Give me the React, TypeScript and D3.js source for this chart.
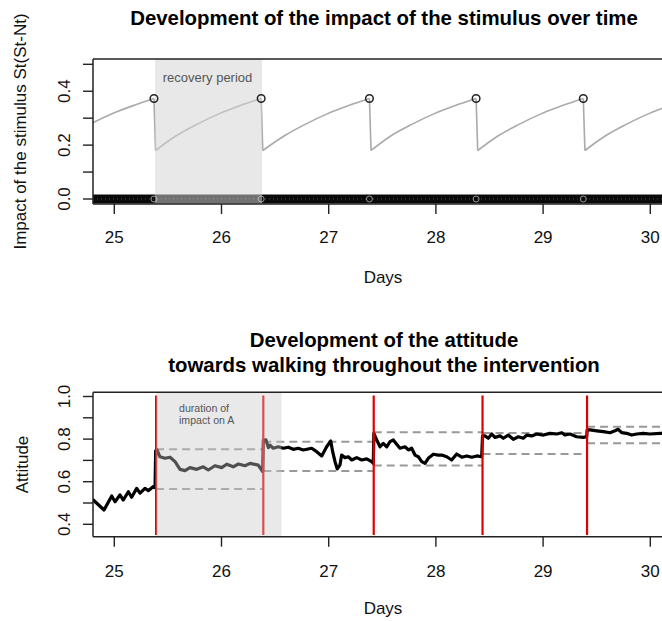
import React from "react";
import * as d3 from "d3";

// ---------- data: top panel (impact of the stimulus) ----------
const stimDays = [
  24.8, 25.0, 25.2, 25.37,
  25.385, 25.57, 25.77, 25.97, 26.17, 26.37,
  26.385, 26.58, 26.78, 26.98, 27.18, 27.38,
  27.395, 27.575, 27.775, 27.975, 28.175, 28.375,
  28.39, 28.575, 28.775, 28.975, 29.175, 29.375,
  29.39, 29.575, 29.775, 29.975, 30.175, 30.375,
];
const stimValues = [
  0.283, 0.32, 0.35, 0.373,
  0.18, 0.233, 0.277, 0.315, 0.346, 0.373,
  0.18, 0.233, 0.277, 0.315, 0.346, 0.373,
  0.18, 0.233, 0.277, 0.315, 0.346, 0.373,
  0.18, 0.233, 0.277, 0.315, 0.346, 0.373,
  0.18, 0.233, 0.277, 0.315, 0.346, 0.373,
];
const peakDays = [25.37, 26.37, 27.38, 28.375, 29.375];
const peakValues = [0.373, 0.373, 0.373, 0.373, 0.373];
const recoveryPeriod = [25.38, 26.378];
const topYTicks = [0, 0.1, 0.2, 0.3, 0.4, 0.5];
const topYLabels = ["0.0", "", "0.2", "", "0.4", ""];

// ---------- data: bottom panel (attitude) ----------
const attDays = [
  24.804, 24.904, 24.976, 25.007, 25.053, 25.084, 25.131, 25.162, 25.209, 25.24,
  25.286, 25.317, 25.364, 25.38, 25.386, 25.398, 25.426, 25.473, 25.52, 25.567,
  25.613, 25.66, 25.706, 25.769, 25.83, 25.877, 25.939, 26.002, 26.049, 26.11,
  26.157, 26.219, 26.266, 26.343, 26.384, 26.39, 26.415, 26.437, 26.452, 26.483,
  26.53, 26.576, 26.623, 26.67, 26.716, 26.763, 26.841, 26.888, 26.935, 26.981,
  27.019, 27.037, 27.059, 27.08, 27.105, 27.121, 27.152, 27.183, 27.215, 27.261,
  27.308, 27.354, 27.401, 27.416, 27.421, 27.448, 27.479, 27.509, 27.541, 27.572,
  27.603, 27.634, 27.665, 27.712, 27.743, 27.774, 27.805, 27.836, 27.868, 27.898,
  27.929, 27.976, 28.022, 28.054, 28.101, 28.147, 28.194, 28.241, 28.287, 28.334,
  28.381, 28.427, 28.435, 28.458, 28.489, 28.521, 28.551, 28.598, 28.629, 28.675,
  28.722, 28.769, 28.815, 28.847, 28.894, 28.94, 29.002, 29.064, 29.127, 29.174,
  29.204, 29.251, 29.313, 29.375, 29.407, 29.411, 29.438, 29.5, 29.562, 29.624,
  29.671, 29.701, 29.733, 29.78, 29.826, 29.873, 29.935, 29.997, 30.091, 30.184,
];
const attValues = [
  0.514, 0.467, 0.533, 0.506, 0.538, 0.514, 0.553, 0.527, 0.569, 0.546,
  0.569, 0.558, 0.577, 0.572, 0.745, 0.749, 0.717, 0.71, 0.715, 0.694,
  0.658, 0.652, 0.666, 0.658, 0.67, 0.655, 0.675, 0.666, 0.682, 0.67,
  0.683, 0.675, 0.686, 0.678, 0.647, 0.795, 0.796, 0.76, 0.772, 0.757,
  0.764, 0.757, 0.762, 0.752, 0.757, 0.749, 0.757, 0.741, 0.721, 0.764,
  0.791, 0.741, 0.694, 0.66, 0.678, 0.725, 0.713, 0.717, 0.702, 0.713,
  0.702, 0.707, 0.694, 0.686, 0.827, 0.796, 0.764, 0.78, 0.764, 0.788,
  0.796, 0.776, 0.757, 0.764, 0.749, 0.757, 0.725, 0.717, 0.694, 0.686,
  0.71, 0.729, 0.725, 0.725, 0.717, 0.702, 0.73, 0.715, 0.721, 0.715,
  0.721, 0.717, 0.815, 0.815, 0.804, 0.824, 0.808, 0.815, 0.804, 0.819,
  0.799, 0.811, 0.804, 0.819, 0.815, 0.824, 0.819, 0.827, 0.824, 0.83,
  0.819, 0.824, 0.811, 0.808, 0.811, 0.843, 0.843, 0.839, 0.835, 0.83,
  0.839, 0.846, 0.83, 0.827, 0.819, 0.824, 0.827, 0.824, 0.827, 0.824,
];
const interventionDays = [25.39, 26.39, 27.42, 28.435, 29.41];
const bandStart = [25.39, 26.39, 27.42, 28.435, 29.41];
const bandEnd = [26.39, 27.42, 28.435, 29.41, 30.5];
const bandUpper = [0.752, 0.788, 0.832, 0.829, 0.858];
const bandLower = [0.566, 0.65, 0.676, 0.73, 0.781];
const impactPeriod = [25.39, 26.56];
const botYTicks = [0.4, 0.5, 0.6, 0.7, 0.8, 0.9, 1.0];
const botYLabels = ["0.4", "", "0.6", "", "0.8", "", "1.0"];

const xTicks = [25, 26, 27, 28, 29, 30];

const FONT = "'Liberation Sans', Arial, Helvetica, sans-serif";

export default function App() {
  const W = 662;
  const H = 621;
  const left = 93;
  const right = 720;

  const x = d3.scaleLinear().domain([25, 30]).range([114.3, 650.3]);

  // top panel
  const tTop = 59;
  const tBot = 204;
  const yT = d3.scaleLinear().domain([0, 0.5]).range([199, 64.3]);

  // bottom panel
  const bTop = 392.3;
  const bBot = 536.7;
  const yB = d3.scaleLinear().domain([0.4, 1.0]).range([524.3, 396.5]);

  // split the sawtooth into rising segments (smooth) and drops (straight)
  const segs: number[][] = [];
  let cur: number[] = [0];
  for (let i = 1; i < stimValues.length; i++) {
    if (stimValues[i] < stimValues[i - 1]) {
      segs.push(cur);
      cur = [i];
    } else cur.push(i);
  }
  segs.push(cur);
  const smooth = d3
    .line<number>()
    .x((i) => x(stimDays[i]))
    .y((i) => yT(stimValues[i]))
    .curve(d3.curveMonotoneX);
  const straight = d3
    .line<number>()
    .x((i) => x(stimDays[i]))
    .y((i) => yT(stimValues[i]));
  const dropPaths: string[] = [];
  for (let s = 1; s < segs.length; s++) {
    const a = segs[s - 1][segs[s - 1].length - 1];
    const b = segs[s][0];
    dropPaths.push(straight([a, b]) as string);
  }

  const attLine = d3
    .line<number>()
    .x((_, i) => x(attDays[i]))
    .y((v) => yB(v))(attValues) as string;

  const xAxis = (boxBottom: number, labelY: number) => (
    <g>
      {xTicks.map((t) => (
        <g key={t}>
          <line x1={x(t)} x2={x(t)} y1={boxBottom} y2={boxBottom + 10} stroke="#222" strokeWidth={1.4} />
          <text x={x(t)} y={labelY} textAnchor="middle" fontSize={17} fontFamily={FONT} fill="#111">
            {t}
          </text>
        </g>
      ))}
    </g>
  );

  const yAxis = (scale: d3.ScaleLinear<number, number>, ticks: number[], labels: string[]) => (
    <g>
      {ticks.map((t, i) => (
        <g key={t}>
          <line x1={left - 10} x2={left} y1={scale(t)} y2={scale(t)} stroke="#222" strokeWidth={1.4} />
          {labels[i] ? (
            <text
              transform={`translate(70,${scale(t)}) rotate(-90)`}
              textAnchor="middle"
              fontSize={17}
              fontFamily={FONT}
              fill="#111"
            >
              {labels[i]}
            </text>
          ) : null}
        </g>
      ))}
    </g>
  );

  const bandY = yT(0);

  return (
    <svg width={W} height={H} style={{ position: "absolute", left: 0, top: 0, background: "#fff" }}>
      <defs>
        <clipPath id="clipTop">
          <rect x={left} y={tTop} width={right - left} height={tBot - tTop} />
        </clipPath>
        <clipPath id="clipBot">
          <rect x={left} y={bTop} width={right - left} height={bBot - bTop} />
        </clipPath>
      </defs>
      <rect x={0} y={0} width={W} height={H} fill="#fff" />

      {/* ---------- TOP PANEL ---------- */}
      <text x={384} y={25} textAnchor="middle" fontSize={20.4} fontWeight="bold" fontFamily={FONT} fill="#000">
        Development of the impact of the stimulus over time
      </text>
      <g clipPath="url(#clipTop)">
        {segs.map((sg, k) => (
          <path key={"s" + k} d={smooth(sg) as string} fill="none" stroke="#aaaaaa" strokeWidth={1.6} />
        ))}
        {dropPaths.map((p, k) => (
          <path key={"d" + k} d={p} fill="none" stroke="#aaaaaa" strokeWidth={1.6} />
        ))}
        <rect x={left} y={bandY - 4.5} width={right - left} height={9} fill="#0a0a0a" />
        <line x1={left} x2={right} y1={bandY} y2={bandY} stroke="#555" strokeWidth={0.8} strokeDasharray="1,3" />
        {peakDays.map((d) => (
          <circle key={"z" + d} cx={x(d)} cy={bandY} r={3} fill="none" stroke="#999" strokeWidth={1} />
        ))}
        <rect
          x={x(recoveryPeriod[0])}
          y={tTop}
          width={x(recoveryPeriod[1]) - x(recoveryPeriod[0])}
          height={tBot - tTop}
          fill="#d3d3d3"
          opacity={0.52}
        />
        {peakDays.map((d, i) => (
          <circle key={d} cx={x(d)} cy={yT(peakValues[i])} r={3.8} fill="none" stroke="#222" strokeWidth={1.5} />
        ))}
      </g>
      <text x={207.5} y={82} textAnchor="middle" fontSize={13} fontFamily={FONT} fill="#555">
        recovery period
      </text>
      <line x1={left} x2={right} y1={tTop} y2={tTop} stroke="#222" strokeWidth={1.5} />
      <line x1={left} x2={right} y1={tBot} y2={tBot} stroke="#222" strokeWidth={1.5} />
      <line x1={left} x2={left} y1={tTop} y2={tBot} stroke="#222" strokeWidth={1.5} />
      {yAxis(yT, topYTicks, topYLabels)}
      {xAxis(tBot, 243)}
      <text
        transform={`translate(26,${(tTop + tBot) / 2}) rotate(-90)`}
        textAnchor="middle"
        fontSize={17}
        fontFamily={FONT}
        fill="#111"
      >
        Impact of the stimulus St(St-Nt)
      </text>
      <text x={383} y={283} textAnchor="middle" fontSize={17} fontFamily={FONT} fill="#111">
        Days
      </text>

      {/* ---------- BOTTOM PANEL ---------- */}
      <text x={384} y={347} textAnchor="middle" fontSize={20.4} fontWeight="bold" fontFamily={FONT} fill="#000">
        Development of the attitude
      </text>
      <text x={384} y={372} textAnchor="middle" fontSize={20.4} fontWeight="bold" fontFamily={FONT} fill="#000">
        towards walking throughout the intervention
      </text>
      <g clipPath="url(#clipBot)">
        {bandStart.map((s, i) => (
          <g key={"b" + i}>
            <line
              x1={x(s)}
              x2={x(bandEnd[i])}
              y1={yB(bandUpper[i])}
              y2={yB(bandUpper[i])}
              stroke="#999"
              strokeWidth={2}
              strokeDasharray="8,5"
            />
            <line
              x1={x(s)}
              x2={x(bandEnd[i])}
              y1={yB(bandLower[i])}
              y2={yB(bandLower[i])}
              stroke="#999"
              strokeWidth={2}
              strokeDasharray="8,5"
            />
          </g>
        ))}
        <path d={attLine} fill="none" stroke="#000" strokeWidth={3.2} strokeLinejoin="round" strokeLinecap="round" />
        {interventionDays.map((d) => (
          <line key={d} x1={x(d)} x2={x(d)} y1={yB(1.005)} y2={yB(0.35)} stroke="#e00000" strokeWidth={2.2} />
        ))}
        <rect
          x={x(impactPeriod[0])}
          y={bTop}
          width={x(impactPeriod[1]) - x(impactPeriod[0])}
          height={bBot - bTop}
          fill="#c9c9c9"
          opacity={0.4}
        />
      </g>
      <text x={179} y={411.5} fontSize={10.6} fontFamily={FONT} fill="#555">
        duration of
      </text>
      <text x={179} y={423.5} fontSize={10.6} fontFamily={FONT} fill="#555">
        impact on A
      </text>
      <line x1={left} x2={right} y1={bTop} y2={bTop} stroke="#222" strokeWidth={1.5} />
      <line x1={left} x2={right} y1={bBot} y2={bBot} stroke="#222" strokeWidth={1.5} />
      <line x1={left} x2={left} y1={bTop} y2={bBot} stroke="#222" strokeWidth={1.5} />
      {yAxis(yB, botYTicks, botYLabels)}
      {xAxis(bBot, 577)}
      <text
        transform={`translate(28,${(bTop + bBot) / 2}) rotate(-90)`}
        textAnchor="middle"
        fontSize={17}
        fontFamily={FONT}
        fill="#111"
      >
        Attitude
      </text>
      <text x={383} y={614} textAnchor="middle" fontSize={17} fontFamily={FONT} fill="#111">
        Days
      </text>
    </svg>
  );
}
